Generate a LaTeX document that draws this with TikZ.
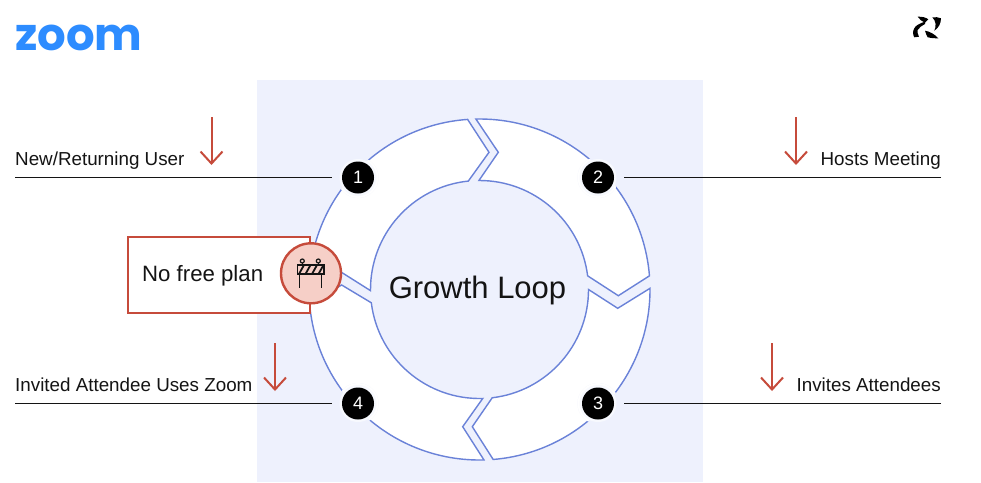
\documentclass[tikz,border=0pt]{standalone}
\usepackage{fontspec}
\setmainfont{Liberation Sans}
\newfontfamily\logofont{Poppins}
\usetikzlibrary{calc,arrows.meta}
\definecolor{panel}{HTML}{EEF1FD}
\definecolor{ringblue}{HTML}{6A82D8}
\definecolor{stopred}{HTML}{C64B3B}
\definecolor{stoppink}{HTML}{F6CFC7}
\definecolor{zoomblue}{HTML}{2D8CFF}
\definecolor{inkdark}{HTML}{141414}
\tikzstyle{segment}=[draw=ringblue, fill=white, line width=1.4pt, line join=miter]
\tikzstyle{num}=[circle, fill=black, text=white, minimum size=32pt, inner sep=0pt, font=\fontsize{18}{18}\selectfont]
\tikzstyle{halo}=[circle, fill=panel!45!white, minimum size=37pt, inner sep=0pt]
\tikzstyle{guide}=[draw=inkdark, line width=1.4pt, shorten >=10pt]
\tikzstyle{drop}=[draw=stopred, line width=2pt, -{Straight Barb[length=12pt, width=22pt, line width=2pt]}]
\tikzstyle{lbl}=[inner sep=0pt, text=inkdark, font=\fontsize{18.8}{20}\selectfont]
\newcommand{\segA}{($(c)+(180:170.5)$) arc[start angle=180, end angle=266, radius=170.5] -- (489,152.3) -- ($(c)+(264.1:109)$) arc[start angle=264.1, end angle=179.4, radius=109] -- (341,272) -- cycle}
\newcommand{\segB}{($(c)+(268.8:170.5)$) arc[start angle=268.8, end angle=355.4, radius=170.5] -- (618.3,295.7) -- ($(c)+(352.8:109)$) arc[start angle=352.8, end angle=269.7, radius=109] -- (498.3,152.3) -- cycle}
\newcommand{\segC}{($(c)+(359.6:170.5)$) arc[start angle=359.6, end angle=445.4, radius=170.5] -- (472.3,426.7) -- ($(c)+(443.3:109)$) arc[start angle=443.3, end angle=360, radius=109] -- (617.7,308.3) -- cycle}
\newcommand{\segD}{($(c)+(88.5:170.5)$) arc[start angle=88.5, end angle=175.4, radius=170.5] -- (341.7,285) -- ($(c)+(173:109)$) arc[start angle=173, end angle=88.3, radius=109] -- (462.7,426.7) -- cycle}
\begin{document}
\begin{tikzpicture}[x=1pt, y=-1pt]
    \useasboundingbox (0,0) rectangle (981,482);
    \fill[white] (0,0) rectangle (981,482);
    \fill[panel] (257,80) rectangle (703,482);
    \coordinate (c) at (479.5,289.5);
    \coordinate (p1) at (358,177.5);
    \coordinate (p2) at (598,177.5);
    \coordinate (p3) at (598,403.5);
    \coordinate (p4) at (358,403.5);

    \draw[segment] \segA;
    \draw[segment] \segB;
    \draw[segment] \segC;
    \draw[segment] \segD;
    \fill[panel] (p1) circle (20.5) (p2) circle (20.5) (p3) circle (20.5) (p4) circle (20.5);
    \begin{scope}
        \clip (p1) circle (20.5) (p2) circle (20.5) (p3) circle (20.5) (p4) circle (20.5);
        \fill[white] \segA;
        \fill[white] \segB;
        \fill[white] \segC;
        \fill[white] \segD;
    \end{scope}

    \node[halo] (h1) at (p1) {};
    \node[halo] (h2) at (p2) {};
    \node[halo] (h3) at (p3) {};
    \node[halo] (h4) at (p4) {};
    \node[num] (n1) at (p1) {1};
    \node[num] (n2) at (p2) {2};
    \node[num] (n3) at (p3) {3};
    \node[num] (n4) at (p4) {4};

    \coordinate (l1) at (15,177.5);
    \coordinate (l2) at (941,177.5);
    \coordinate (l3) at (941,403.5);
    \coordinate (l4) at (15,403.5);
    \draw[guide] (l1)--(n1);
    \draw[guide] (l2)--(n2);
    \draw[guide] (l3)--(n3);
    \draw[guide] (l4)--(n4);

    \node[lbl, anchor=base west] (t1) at (15,165) {New/Returning User};
    \node[lbl, anchor=base east] (t2) at (941,165) {Hosts Meeting};
    \node[lbl, anchor=base east] (t3) at (941,391) {Invites Attendees};
    \node[lbl, anchor=base west] (t4) at (15,391) {Invited Attendee Uses Zoom};

    \coordinate (d1a) at (211.5,117);
    \coordinate (d1b) at (211.5,165);
    \coordinate (d2a) at (796,117);
    \coordinate (d2b) at (796,165);
    \coordinate (d3a) at (772,343);
    \coordinate (d3b) at (772,391);
    \coordinate (d4a) at (275,343);
    \coordinate (d4b) at (275,391);
    \draw[drop] (d1a)--(d1b);
    \draw[drop] (d2a)--(d2b);
    \draw[drop] (d3a)--(d3b);
    \draw[drop] (d4a)--(d4b);

    \node[text=inkdark, font=\fontsize{31}{32}\selectfont] (loop) at (477.5,290) {Growth Loop};

    \node[draw=stopred, fill=white, line width=2.4pt, minimum width=182pt, minimum height=75.5pt, inner sep=0pt, anchor=north west] (box) at (127,236) {};
    \node[lbl, anchor=base west, font=\fontsize{22.2}{24}\selectfont] (free) at (142,281) {No free plan};
    \node[circle, draw=stopred, fill=stoppink, line width=2.4pt, minimum size=60pt, inner sep=0pt] (stop) at (311,273.3) {};

    \draw[inkdark, line width=1.4pt] (297.3,265) rectangle (324,274);
    \draw[inkdark, line width=1.4pt] (302.3,263) -- (302.3,265) (318.3,263) -- (318.3,265);
    \draw[inkdark, line width=1.2pt] (302.3,261) circle (2) (318.3,261) circle (2);
    \draw[inkdark, line width=1.4pt] (299.5,274) -- (299.5,288) (321.5,274) -- (321.5,288);
    \draw[inkdark, line width=1.8pt] (299,274) -- (304,265) (305.5,274) -- (310.5,265) (312,274) -- (317,265) (318.5,274) -- (323.5,265);

    \node[text=zoomblue, inner sep=0pt, anchor=base west, font=\logofont\bfseries\fontsize{45}{45}\selectfont] (logo) at (15,50) {zoom};

    \fill[black] (917.7,16.7) .. controls (922,16.5) and (926,17.5) .. (928.3,19.3) -- (925,22.7) .. controls (922,21.5) and (919.5,19.5) .. (917.7,16.7) -- cycle;
    \fill[black] (932.3,17.3) .. controls (935,16.8) and (938.5,17.3) .. (941,18.3) .. controls (941,23.5) and (938.5,28) .. (934.3,30.7) .. controls (936.5,26) and (936,21) .. (932.3,17.3) -- cycle;
    \fill[black] (925,21.7) .. controls (920,23) and (915,26) .. (914.3,28.3) .. controls (912.5,31) and (912.8,35) .. (914.3,37.3) .. controls (916,37.5) and (917.5,37.3) .. (919,36.7) .. controls (917.5,34) and (917.2,32) .. (917.7,30) .. controls (919,27.5) and (922,25.5) .. (925,24) -- cycle;
    \fill[black] (925,30.7) .. controls (930,31.5) and (935,34.5) .. (938.3,38.3) .. controls (934.5,38.5) and (931,38.2) .. (927.7,37.3) .. controls (926.5,35) and (925.5,33) .. (925,30.7) -- cycle;
\end{tikzpicture}
\end{document}
